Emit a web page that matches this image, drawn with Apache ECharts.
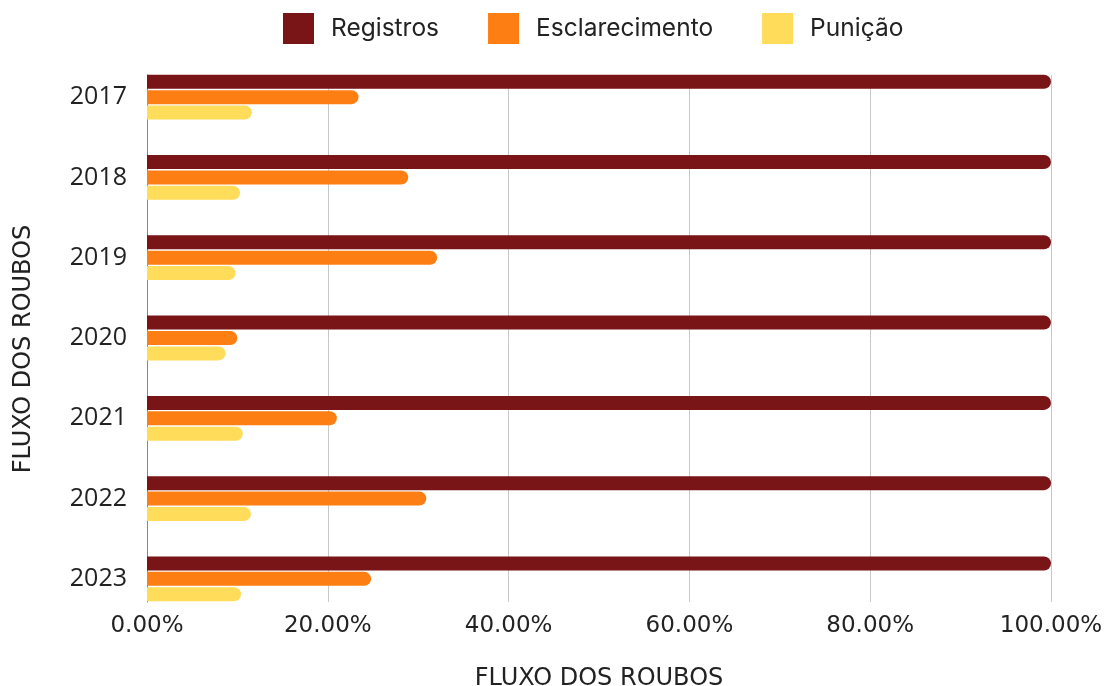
<!DOCTYPE html>
<html>
<head>
<meta charset="utf-8">
<script src="https://cdn.jsdelivr.net/npm/echarts@6/dist/echarts.min.js"></script>
<style>
html,body{margin:0;padding:0;background:#fff;}
#c{width:1107px;height:686px;}
</style>
</head>
<body>
<div id="c"></div>
<script>
const years = ['2017','2018','2019','2020','2021','2022','2023'];
const registros = [100, 100, 100, 100, 100, 100, 100];
const esclarecimento = [23.4, 28.9, 32.1, 10.0, 21.0, 30.9, 24.8];
const punicao = [11.6, 10.3, 9.8, 8.7, 10.6, 11.5, 10.4];
const xTicks = [0, 20, 40, 60, 80, 100];
const axisTitle = 'FLUXO DOS ROUBOS';

const colors = ['#7A1517', '#FD7F14', '#FFDC59'];
const chart = echarts.init(document.getElementById('c'));
const barBase = { type: 'bar', xAxisIndex: 1, yAxisIndex: 1, barWidth: 14, barGap: '10%', barCategoryGap: 0,
  itemStyle: { borderRadius: [0, 7, 7, 0] } };
chart.setOption({
  animation: false,
  color: colors,
  textStyle: { fontFamily: 'Open Sans' },
  legend: {
    top: 8, left: 278, icon: 'rect', itemWidth: 31, itemHeight: 31, itemGap: 49,
    textStyle: { fontFamily: 'Inter', fontSize: 24.5, color: '#222', padding: [0, 0, 0, 12] },
    data: ['Registros', 'Esclarecimento', 'Punição']
  },
  grid: [
    { left: 147, right: 56, top: 75, height: 527, outerBoundsMode: 'none', containLabel: false },
    { left: 147, right: 56, top: 57, height: 562, outerBoundsMode: 'none', containLabel: false }
  ],
  xAxis: [
    { gridIndex: 0, type: 'value', min: xTicks[0], max: xTicks[xTicks.length - 1], interval: 20,
      axisLine: { show: false }, axisTick: { show: false },
      splitLine: { show: true, lineStyle: { color: '#c8c8c8', width: 1 } },
      axisLabel: { margin: 13, fontSize: 23, color: '#222', fontFamily: 'DejaVu Sans', formatter: v => v.toFixed(2) + '%' },
      name: axisTitle, nameLocation: 'middle', nameGap: 65,
      nameTextStyle: { fontSize: 24, color: '#222', fontFamily: 'DejaVu Sans' } },
    { gridIndex: 1, type: 'value', min: 0, max: 100, show: false }
  ],
  yAxis: [
    { gridIndex: 0, type: 'category', data: years, inverse: true,
      axisLine: { show: true, lineStyle: { color: '#888', width: 1 } },
      axisTick: { show: false }, axisLabel: { show: false }, splitLine: { show: false } },
    { gridIndex: 1, type: 'category', data: years, inverse: true,
      axisLine: { show: false }, axisTick: { show: false },
      axisLabel: { margin: 20, fontSize: 25, color: '#222' },
      name: axisTitle, nameLocation: 'middle', nameGap: 111, nameRotate: 90,
      nameTextStyle: { fontSize: 24, color: '#222', fontFamily: 'DejaVu Sans', padding: [0, 22, 0, 0] } }
  ],
  series: [
    Object.assign({}, barBase, { name: 'Registros', data: registros }),
    Object.assign({}, barBase, { name: 'Esclarecimento', data: esclarecimento }),
    Object.assign({}, barBase, { name: 'Punição', data: punicao })
  ]
});
</script>
</body>
</html>
